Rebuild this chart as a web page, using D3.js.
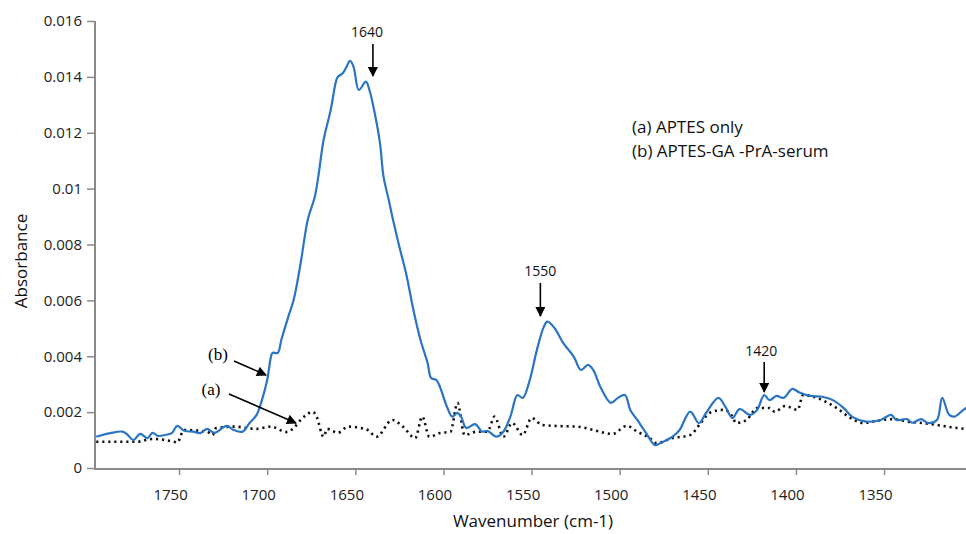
<!DOCTYPE html>
<html>
<head>
<meta charset="utf-8">
<script src="https://cdn.jsdelivr.net/npm/d3@7"></script>
<style>
  body { margin: 0; background: #fff; }
  svg { display: block; }
  .tick text { font-family: "Open Sans", sans-serif; font-size: 15px; fill: #222; }
</style>
</head>
<body>
<script>
// spectrum (b) APTES-GA-PrA-serum
var waveB = [1797, 1789, 1782, 1779, 1776, 1772, 1768, 1765, 1762, 1758, 1754, 1751, 1747, 1742, 1738, 1734, 1730, 1723, 1719, 1714,
  1710, 1706, 1703, 1700, 1698, 1697, 1694, 1692, 1688, 1685, 1681, 1677, 1673, 1671, 1668, 1664, 1661, 1660, 1657, 1655,
  1653, 1651, 1648, 1644, 1642, 1639, 1636, 1634, 1631, 1629, 1625, 1621, 1617, 1613, 1609, 1607, 1604, 1602, 1598, 1595,
  1592, 1590, 1587, 1582, 1578, 1575, 1570, 1566, 1562, 1558, 1555, 1551, 1547, 1543, 1541, 1537, 1532, 1526, 1522, 1518,
  1515, 1511, 1505, 1501, 1497, 1494, 1490, 1485, 1480, 1477, 1470, 1466, 1460, 1455, 1451, 1444, 1440, 1436, 1432, 1426,
  1422, 1418, 1415, 1411, 1407, 1402, 1398, 1392, 1385, 1379, 1373, 1368, 1360, 1352, 1346, 1343, 1337, 1334, 1329, 1325,
  1320, 1317, 1313, 1310, 1305, 1302];
var absB = [0.00112, 0.00125, 0.00130, 0.00118, 0.00100, 0.00122, 0.00107, 0.00126, 0.00115, 0.00118, 0.00126, 0.00151, 0.00133, 0.00130, 0.00125, 0.00140, 0.00126, 0.00151, 0.00136, 0.00130,
  0.00161, 0.00190, 0.00243, 0.00315, 0.00394, 0.00412, 0.00412, 0.00458, 0.00542, 0.00601, 0.00734, 0.00888, 0.00971, 0.01043, 0.01174, 0.01281, 0.01383, 0.01399, 0.01414, 0.01436,
  0.01457, 0.01436, 0.01353, 0.01383, 0.01353, 0.01271, 0.01163, 0.01043, 0.00959, 0.00899, 0.00792, 0.00691, 0.00565, 0.00458, 0.00376, 0.00322, 0.00315, 0.00291, 0.00219, 0.00184,
  0.00197, 0.00184, 0.00143, 0.00157, 0.00130, 0.00133, 0.00112, 0.00130, 0.00184, 0.00261, 0.00251, 0.00315, 0.00422, 0.00506, 0.00524, 0.00501, 0.00447, 0.00398, 0.00351, 0.00369,
  0.00351, 0.00291, 0.00233, 0.00251, 0.00261, 0.00208, 0.00172, 0.00125, 0.00082, 0.00089, 0.00112, 0.00136, 0.00202, 0.00161, 0.00197, 0.00251, 0.00219, 0.00179, 0.00211, 0.00190,
  0.00208, 0.00261, 0.00243, 0.00258, 0.00251, 0.00283, 0.00270, 0.00258, 0.00255, 0.00243, 0.00215, 0.00183, 0.00166, 0.00172, 0.00190, 0.00172, 0.00175, 0.00162, 0.00175, 0.00161,
  0.00172, 0.00251, 0.00190, 0.00184, 0.00208, 0.00220];

// spectrum (a) APTES only
var waveA = [1797, 1774, 1765, 1753, 1751, 1748, 1747, 1734, 1731, 1729, 1719, 1706, 1698, 1689, 1685, 1681, 1674, 1672, 1668, 1666,
  1660, 1654, 1647, 1643, 1638, 1629, 1623, 1616, 1612, 1608, 1602, 1596, 1592, 1588, 1581, 1575, 1571, 1566, 1561, 1555,
  1550, 1544, 1534, 1524, 1515, 1504, 1496, 1490, 1483, 1479, 1470, 1460, 1454, 1449, 1441, 1436, 1434, 1428, 1422, 1415,
  1412, 1406, 1399, 1396, 1388, 1383, 1377, 1369, 1362, 1354, 1345, 1337, 1328, 1320, 1313, 1304];
var absA = [0.00094, 0.00094, 0.00104, 0.00094, 0.00091, 0.00130, 0.00136, 0.00130, 0.00118, 0.00143, 0.00148, 0.00140, 0.00148, 0.00129, 0.00143, 0.00172, 0.00201, 0.00184, 0.00112, 0.00140,
  0.00126, 0.00148, 0.00143, 0.00136, 0.00112, 0.00172, 0.00148, 0.00107, 0.00184, 0.00112, 0.00125, 0.00130, 0.00233, 0.00118, 0.00130, 0.00130, 0.00184, 0.00112, 0.00161, 0.00118,
  0.00179, 0.00154, 0.00150, 0.00148, 0.00136, 0.00122, 0.00151, 0.00130, 0.00107, 0.00089, 0.00107, 0.00118, 0.00161, 0.00197, 0.00208, 0.00184, 0.00161, 0.00172, 0.00215, 0.00215,
  0.00201, 0.00222, 0.00208, 0.00261, 0.00251, 0.00237, 0.00215, 0.00179, 0.00161, 0.00169, 0.00175, 0.00166, 0.00161, 0.00154, 0.00147, 0.00140];

var xTicks = [1750, 1700, 1650, 1600, 1550, 1500, 1450, 1400, 1350];
var yTicks = [0, 0.002, 0.004, 0.006, 0.008, 0.01, 0.012, 0.014, 0.016];

// peak call-outs: label and where the arrow sits (wavenumber, as drawn)
var peakLabels = ['1640', '1550', '1420'];
var peakWaves = [1640, 1545, 1418];

var legendLines = ['(a) APTES only', '(b) APTES-GA -PrA-serum'];

var width = 966, height = 534;

var x = d3.scaleLinear().domain([1797.7, 1303.5]).range([95, 966]);
var y = d3.scaleLinear().domain([0, 0.016]).range([468, 21]);

var svg = d3.select('body').append('svg')
  .attr('width', width)
  .attr('height', height);

svg.append('defs').append('marker')
  .attr('id', 'head')
  .attr('viewBox', '0 0 10 10')
  .attr('refX', 9).attr('refY', 5)
  .attr('markerWidth', 11).attr('markerHeight', 10)
  .attr('markerUnits', 'userSpaceOnUse')
  .attr('orient', 'auto')
  .append('path')
  .attr('d', 'M0,0 L10,5 L0,10 Z')
  .attr('fill', '#000');

// axes
var axisColor = '#8a8a8a';

var yAxis = svg.append('g')
  .attr('transform', 'translate(95,0)')
  .call(d3.axisLeft(y).tickValues(yTicks).tickSize(8).tickPadding(5)
    .tickFormat(function(d) { return String(+d.toFixed(3)); }));
yAxis.select('.domain').remove();
yAxis.selectAll('.tick line').attr('stroke', axisColor).attr('stroke-width', 1.5);

var xAxis = svg.append('g')
  .attr('transform', 'translate(0,469)')
  .call(d3.axisBottom(x).tickValues(xTicks).tickSize(6).tickPadding(14)
    .tickFormat(d3.format('d')));
xAxis.select('.domain').remove();
xAxis.selectAll('.tick line').attr('stroke', axisColor).attr('stroke-width', 1.5);
xAxis.selectAll('.tick text').attr('dx', -9);

svg.append('line')
  .attr('x1', 95).attr('x2', 95)
  .attr('y1', y(0.016)).attr('y2', 470)
  .attr('stroke', axisColor).attr('stroke-width', 2);
svg.append('line')
  .attr('x1', 94).attr('x2', width)
  .attr('y1', 469).attr('y2', 469)
  .attr('stroke', axisColor).attr('stroke-width', 2);

// titles
svg.append('text')
  .attr('x', 533).attr('y', 527)
  .attr('text-anchor', 'middle')
  .style('font-family', '"Open Sans", sans-serif')
  .style('font-size', '17px')
  .attr('fill', '#111')
  .text('Wavenumber (cm-1)');

svg.append('text')
  .attr('transform', 'translate(27,261) rotate(-90)')
  .attr('text-anchor', 'middle')
  .style('font-family', '"Open Sans", sans-serif')
  .style('font-size', '17px')
  .attr('fill', '#111')
  .text('Absorbance');

// curves
var specA = waveA.map(function(w, i) { return { w: w, a: absA[i] }; });
var specB = waveB.map(function(w, i) { return { w: w, a: absB[i] }; });

var lineA = d3.line()
  .x(function(d) { return x(d.w); })
  .y(function(d) { return y(d.a); })
  .curve(d3.curveMonotoneX);

var lineB = d3.line()
  .x(function(d) { return x(d.w); })
  .y(function(d) { return y(d.a); })
  .curve(d3.curveCatmullRom.alpha(0.5));

svg.append('path')
  .datum(specA)
  .attr('d', lineA)
  .attr('fill', 'none')
  .attr('stroke', '#111')
  .attr('stroke-width', 2.6)
  .attr('stroke-dasharray', '2.2,3.8');

svg.append('path')
  .datum(specB)
  .attr('d', lineB)
  .attr('fill', 'none')
  .attr('stroke', '#2a74c4')
  .attr('stroke-width', 2.2)
  .attr('stroke-linejoin', 'round');

// peak arrows
var labelY = [32, 271, 351];
var labelDx = [-6, 0, -3];
var arrowTop = [44, 283, 362];
var arrowTip = [76, 316, 392];

peakLabels.forEach(function(lbl, i) {
  var px = x(peakWaves[i]);
  svg.append('text')
    .attr('x', px + labelDx[i]).attr('y', labelY[i] + 5)
    .attr('text-anchor', 'middle')
    .style('font-family', '"Open Sans", sans-serif')
    .style('font-size', '14px')
    .attr('fill', '#111')
    .text(lbl);
  svg.append('line')
    .attr('x1', px).attr('x2', px)
    .attr('y1', arrowTop[i]).attr('y2', arrowTip[i])
    .attr('stroke', '#000').attr('stroke-width', 1.6)
    .attr('marker-end', 'url(#head)');
});

// (a) / (b) pointers
var tagText = ['(b)', '(a)'];
var tagPos = [[218, 360], [211, 395]];
var tagFrom = [[234, 361], [229, 394]];
var tagTo = [[266, 375], [296, 423]];

tagText.forEach(function(t, i) {
  svg.append('text')
    .attr('x', tagPos[i][0]).attr('y', tagPos[i][1])
    .attr('text-anchor', 'middle')
    .style('font-family', '"Liberation Serif", "DejaVu Serif", serif')
    .style('font-size', '17px')
    .attr('fill', '#000')
    .text(t);
  svg.append('line')
    .attr('x1', tagFrom[i][0]).attr('y1', tagFrom[i][1])
    .attr('x2', tagTo[i][0]).attr('y2', tagTo[i][1])
    .attr('stroke', '#000').attr('stroke-width', 1.6)
    .attr('marker-end', 'url(#head)');
});

// legend text
svg.selectAll('.legend')
  .data(legendLines)
  .enter().append('text')
  .attr('class', 'legend')
  .attr('x', 632)
  .attr('y', function(d, i) { return 133 + i * 24; })
  .style('font-family', '"Open Sans", sans-serif')
  .style('font-size', '17px')
  .attr('fill', '#111')
  .text(function(d) { return d; });
</script>
</body>
</html>
